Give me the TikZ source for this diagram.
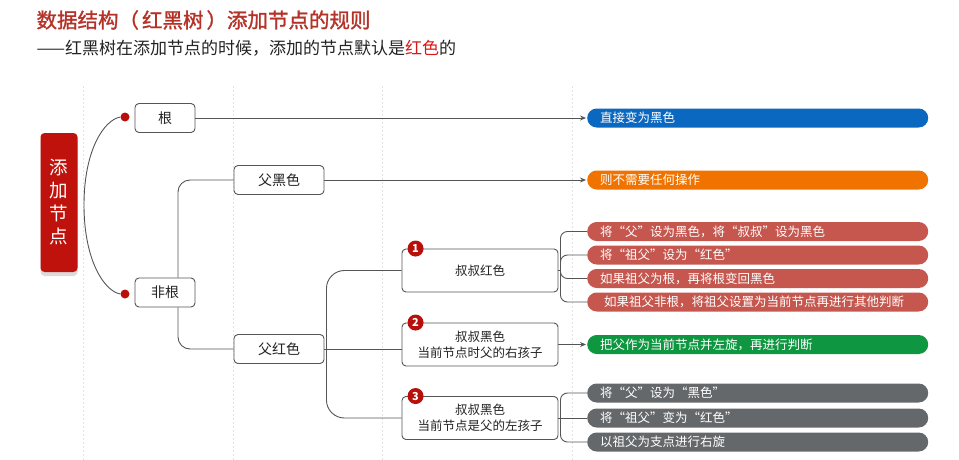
\documentclass[tikz,border=0pt]{standalone}
\usepackage{fontspec}
\setmainfont{Noto Sans CJK SC}
\newfontfamily\titlefont[FakeBold=1.3]{Noto Sans CJK SC}
\usetikzlibrary{arrows.meta,shadows}

\definecolor{titlered}{RGB}{180,50,40}
\definecolor{hired}{RGB}{215,25,25}
\definecolor{textdark}{RGB}{35,35,35}
\definecolor{linegray}{RGB}{85,85,85}
\definecolor{rootred}{RGB}{192,18,12}
\definecolor{badgered}{RGB}{185,15,10}
\definecolor{pillblue}{RGB}{11,104,192}
\definecolor{pillorange}{RGB}{240,115,0}
\definecolor{pillred}{RGB}{198,87,78}
\definecolor{pillgreen}{RGB}{14,150,64}
\definecolor{pillgray}{RGB}{101,104,107}

\begin{document}
\begin{tikzpicture}[x=1pt, y=-1pt,
    box/.style={rectangle, draw=linegray, fill=white, rounded corners=4pt,
                line width=0.9pt, inner sep=0pt, text=textdark,
                minimum height=29pt, font=\fontsize{14}{16}\selectfont},
    casebox/.style={box, minimum width=156pt, minimum height=43pt,
                    align=center, font=\fontsize{12.5}{16}\selectfont},
    rootbox/.style={rectangle, fill=rootred, rounded corners=4pt,
                    minimum width=37pt, minimum height=139pt, text=white,
                    align=center, font=\fontsize{18.5}{23}\selectfont,
                    drop shadow={shadow xshift=0pt, shadow yshift=-4pt,
                                 fill=black!14, opacity=1}},
    pill/.style={rectangle, rounded corners=9.5pt, minimum height=19pt,
                 text width=315pt, inner xsep=13pt, inner ysep=0pt,
                 anchor=west, align=left, text=white,
                 font=\fontsize{12.5}{14}\selectfont},
    badge/.style={circle, fill=badgered, text=white, inner sep=0pt,
                  minimum size=16pt, font=\bfseries\fontsize{11}{12}\selectfont},
    dot/.style={circle, fill=badgered, inner sep=0pt, minimum size=9pt},
    conn/.style={draw=linegray, line width=0.9pt},
    arrow/.style={conn, -{Stealth[length=6pt,width=5pt]}, shorten >=1pt},
    guide/.style={draw=gray!22, dash pattern=on 2pt off 2pt, line width=0.6pt}
  ]
    \useasboundingbox (0,0) rectangle (959,460);

    % 辅助线
    \draw[guide] (83,86) -- (83,460);
    \draw[guide] (233,86) -- (233,460);
    \draw[guide] (382,86) -- (382,460);
    \draw[guide] (572,86) -- (572,460);

    % 标题
    \node[anchor=west, text=titlered, font=\titlefont\fontsize{20.5}{24}\selectfont] (title) at (33,20)
      {数据结构（\hspace{3pt}红黑树\hspace{3pt}）添加节点的规则};
    \node[anchor=west, text=textdark, font=\fontsize{17}{20}\selectfont] (subtitle) at (33,48)
      {——红黑树在添加节点的时候，添加的节点默认是\textcolor{hired}{红色}的};

    % 节点
    \node[rootbox] (root) at (59,202.5) {添\\加\\节\\点};
    \node[box, minimum width=60pt] (gen) at (165,118) {根};
    \node[box, minimum width=60pt] (feigen) at (165,292.5) {非根};
    \node[box, minimum width=90pt] (fuhei) at (279,180) {父黑色};
    \node[box, minimum width=90pt] (fuhong) at (279,349) {父红色};
    \node[casebox] (n1) at (480,270.5) {叔叔红色};
    \node[casebox] (n2) at (480,344.5) {叔叔黑色\\当前节点时父的右孩子};
    \node[casebox] (n3) at (480,418) {叔叔黑色\\当前节点是父的左孩子};
    \node[badge] (b1) at ([xshift=14pt]n1.north west) {1};
    \node[badge] (b2) at ([xshift=14pt]n2.north west) {2};
    \node[badge] (b3) at ([xshift=14pt]n3.north west) {3};

    % 结果
    \node[pill, fill=pillblue] (blue) at (587,118) {直接变为黑色};
    \node[pill, fill=pillorange] (orange) at (587,180) {则不需要任何操作};
    \node[pill, fill=pillred] (r1) at (587,231.5) {将“父”设为黑色，将“叔叔”设为黑色};
    \node[pill, fill=pillred] (r2) at (587,255) {将“祖父”设为“红色”};
    \node[pill, fill=pillred] (r3) at (587,278.5) {如果祖父为根，再将根变回黑色};
    \node[pill, fill=pillred] (r4) at (587,302) {\hspace{4pt}如果祖父非根，将祖父设置为当前节点再进行其他判断};
    \node[pill, fill=pillgreen] (green) at (587,344.5) {把父作为当前节点并左旋，再进行判断};
    \node[pill, fill=pillgray] (g1) at (587,393) {将“父”设为“黑色”};
    \node[pill, fill=pillgray] (g2) at (587,418) {将“祖父”变为“红色”};
    \node[pill, fill=pillgray] (g3) at (587,442) {以祖父为支点进行右旋};

    % 连线
    \coordinate (fork) at (84,205);
    \node[dot] (dot1) at (125,117) {};
    \node[dot] (dot2) at (125,294) {};
    \draw[conn] (dot1.west) .. controls (104,120) and (84,150) .. (fork)
                .. controls (84,260) and (104,291) .. (dot2.west);
    \draw[arrow] (gen.east) -- (blue.west);
    \draw[arrow] (fuhei.east) -- (orange.west);
    \draw[conn, rounded corners=12pt] ([xshift=13pt]feigen.north) |- (fuhei.west);
    \draw[conn, rounded corners=12pt] ([xshift=13pt]feigen.south) |- (fuhong.west);

    \coordinate (k0) at ([xshift=2pt]fuhong.east);
    \draw[conn] (fuhong.east) -- (k0 -| n2.west);
    \draw[conn, rounded corners=18pt] (k0) |- (n1.west);
    \draw[conn, rounded corners=18pt] (k0) |- (n3.west);

    \coordinate (k1) at ([xshift=2pt]n1.east);
    \draw[conn] (n1.east) -- (k1);
    \draw[conn, rounded corners=7pt] (k1) |- (r1.west);
    \draw[conn, rounded corners=7pt] (k1) |- (r2.west);
    \draw[conn, rounded corners=7pt] (k1) |- (r3.west);
    \draw[conn, rounded corners=7pt] (k1) |- (r4.west);

    \draw[arrow] (n2.east) -- (green.west);

    \coordinate (k3) at ([xshift=2pt]n3.east);
    \draw[conn, rounded corners=7pt] (k3) |- (g1.west);
    \draw[conn] (n3.east) -- (g2.west);
    \draw[conn, rounded corners=7pt] (k3) |- (g3.west);
  \end{tikzpicture}
\end{document}
